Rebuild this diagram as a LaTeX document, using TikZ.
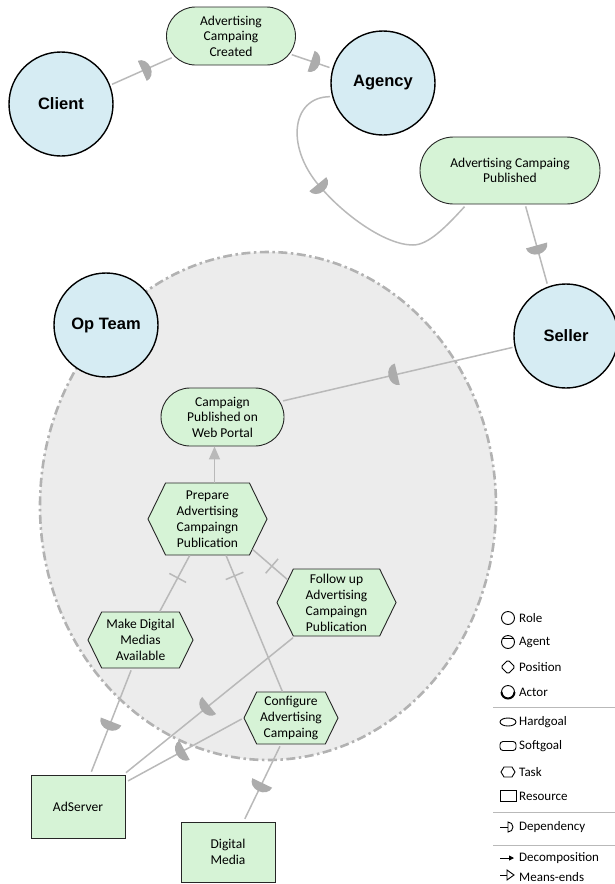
\documentclass[tikz,border=0pt]{standalone}
\usepackage{fontspec}
\setmainfont{Carlito}
\newfontfamily\actorfont{Liberation Sans}
\usetikzlibrary{shapes.misc, shapes.symbols, arrows.meta, decorations.markings}
\definecolor{actorfill}{RGB}{214,236,243}
\definecolor{goalfill}{RGB}{214,243,214}
\definecolor{linegray}{RGB}{185,185,185}
\definecolor{dmark}{RGB}{172,172,172}
\definecolor{bndgray}{RGB}{178,178,178}
\definecolor{bndfill}{RGB}{236,236,236}
\tikzset{
    actor/.style={circle, draw, line width=1.4pt, fill=actorfill, minimum size=104pt,
        inner sep=0pt, font=\actorfont\bfseries\fontsize{16.5}{20}\selectfont},
    goal/.style={rounded rectangle, draw=black!85, line width=0.9pt, fill=goalfill,
        inner sep=0pt, align=center, font=\fontsize{13.5}{15.5}\selectfont},
    task/.style={signal, signal to=west and east, signal pointer angle=128,
        draw=black!85, line width=0.9pt, fill=goalfill, inner sep=1pt, align=center,
        font=\fontsize{13.5}{16}\selectfont},
    resource/.style={rectangle, draw=black!85, line width=0.9pt, fill=goalfill,
        minimum width=94pt, inner sep=0pt, align=center, font=\fontsize{13.5}{16}\selectfont},
    boundary/.style={draw=bndgray, fill=bndfill, line width=2.6pt,
        dash pattern=on 9pt off 3.5pt on 2.5pt off 3.5pt},
    dep/.style={draw=linegray, line width=1.5pt, shorten <=2pt, shorten >=3pt,
        postaction={decorate, decoration={markings, mark=at position #1 with
        {\fill[dmark] (0,-11) arc[start angle=-90, end angle=90, x radius=9, y radius=11] -- cycle;}}}},
    dep/.default=0.5,
    decomp/.style={draw=linegray, line width=1.5pt,
        postaction={decorate, decoration={markings, mark=at position #1 with
        {\draw[linegray, line width=1.5pt] (0,-9.5) -- (0,9.5);}}}},
    decarrow/.style={draw=linegray, line width=1.5pt, -{Triangle[width=11pt,length=13pt]}},
    legend/.style={anchor=west, inner sep=0pt, font=\fontsize{13}{15}\selectfont}
}

\begin{document}
\begin{tikzpicture}[x=1pt, y=-1pt]
	\useasboundingbox (0,0) rectangle (615,884);
	\draw[boundary] (268,506) ellipse[x radius=228, y radius=254];

	\node (1) [actor] at (61, 104) {Client};
	\node (2) [goal, minimum width=129pt, minimum height=58pt] at (231, 36) {Advertising\\Campaing\\Created};
	\node (3) [actor] at (383, 83) {Agency};
	\node (4) [goal, minimum width=180pt, minimum height=67pt] at (510, 170.5) {Advertising Campaing\\Published};
	\node (5) [actor] at (566, 336) {Seller};
	\node (6) [actor] at (106, 325) {Op Team};
	\node (7) [goal, minimum width=123pt, minimum height=58pt] at (222.5, 417) {Campaign\\Published on\\Web Portal};
	\node (8) [task, minimum width=119pt, minimum height=72pt] at (207.5, 519) {Prepare\\Advertising\\Campaingn\\Publication};
	\node (9) [task, minimum width=105pt, minimum height=56pt] at (140.5, 640) {Make Digital\\Medias\\Available};
	\node (10) [task, minimum width=119pt, minimum height=67pt] at (336.5, 602.5) {Follow up\\Advertising\\Campaingn\\Publication};
	\node (11) [task, minimum width=94pt, minimum height=52pt] at (291, 718) {Configure\\Advertising\\Campaing};
	\node (12) [resource, minimum height=63pt] at (78, 806.5) {AdServer};
	\node (13) [resource, minimum height=60pt] at (228, 852) {Digital\\Media};

	\draw[dep] (1.21) -- (2.200); \draw[dep] (2.343) -- (3.164);
	\draw[dep=0.38] (3.195) .. controls (290,97) and (285,150) .. (323,190)
		.. controls (345,215) and (385,245) .. (413,245)
		.. controls (428,245) and (445,228) .. (4.218);
	\draw[dep] (4.294) -- (5.110); \draw[dep] (5.192) -- (7.15);
	\draw[decarrow] ([xshift=7pt]8.north) -- ([xshift=7pt]8.north |- 7.south);

	\draw[decomp=0.6] (9.56) -- (8.244); \draw[decomp=0.85] (11.108) -- (8.297);
	\draw[decomp=0.45] (10.155) -- (8.326);
	\draw[dep] (9.253) -- (12.69); \draw[dep] (10.219) -- (12.35);
	\draw[dep] (11.180) -- (12.27); \draw[dep] (11.249) -- (13.63);

	\begin{scope}[line width=0.9pt]
		\draw (508,618) circle[radius=6.5];
		\draw (508,642) circle[radius=6.5]; \draw (502.5,638.5) -- (513.5,638.5);
		\draw[rounded corners=1.5pt] (508,660) -- (515,667) -- (508,674) -- (501,667) -- cycle;
		\draw (508,692) circle[radius=6.5];
		\draw[line width=2pt] (501.5,692) arc[start angle=180, end angle=0, radius=6.5];
		\draw (508,722) ellipse[x radius=8, y radius=4];
		\draw[rounded corners=3pt] (500,741.5) rectangle (516,750.5);
		\draw (501,772) -- (504,767) -- (512,767) -- (515,772) -- (512,777) -- (504,777) -- cycle;
		\draw (500,790.5) rectangle (516,801.5);
		\draw (500,827) -- (508,827);
		\draw (508,822) arc[start angle=-90, end angle=90, radius=5] -- cycle;
		\draw[-{Triangle[width=5pt,length=5pt]}] (500,858) -- (514,858);
		\draw (500,875) -- (507,875); \draw (507,870) -- (514,875) -- (507,880) -- cycle;
	\end{scope}
	\draw[linegray, line width=0.8pt] (493,707) -- (615,707);
	\draw[linegray, line width=0.8pt] (493,812) -- (615,812);
	\draw[linegray, line width=0.8pt] (493,845) -- (615,845);

	\node (l1) [legend] at (519, 618) {Role};
	\node (l2) [legend] at (519, 642) {Agent};
	\node (l3) [legend] at (519, 667) {Position};
	\node (l4) [legend] at (519, 692) {Actor};
	\node (l5) [legend] at (519, 722) {Hardgoal};
	\node (l6) [legend] at (519, 746) {Softgoal};
	\node (l7) [legend] at (519, 772) {Task};
	\node (l8) [legend] at (519, 796) {Resource};
	\node (l9) [legend] at (519, 827) {Dependency};
	\node (l10) [legend] at (519, 858) {Decomposition};
	\node (l11) [legend] at (519, 877) {Means-ends};
\end{tikzpicture}
\end{document}
